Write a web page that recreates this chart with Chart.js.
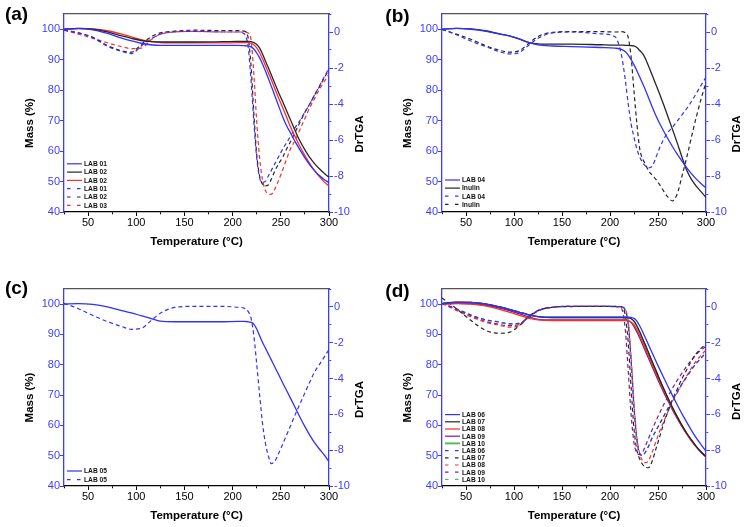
<!DOCTYPE html>
<html>
<head>
<meta charset="utf-8">
<script src="https://cdn.jsdelivr.net/npm/chart.js@4.4.1/dist/chart.umd.min.js"></script>
<style>
  body { margin: 0; background: #fff; width: 747px; height: 527px; position: relative; overflow: hidden; }
  canvas { position: absolute; }
</style>
</head>
<body>
<canvas id="pa" width="374" height="264" style="left:0;top:0"></canvas>
<canvas id="pb" width="373" height="264" style="left:374px;top:0"></canvas>
<canvas id="pc" width="374" height="263" style="left:0;top:264px"></canvas>
<canvas id="pd" width="373" height="263" style="left:374px;top:264px"></canvas>
<script>
// DATA — temperature grid shared by all panels (°C)
const temps = [25, 40, 55, 70, 85, 95, 105, 115, 125, 140, 160, 190, 205, 212, 216, 219, 222, 225, 228, 231, 234, 237, 240, 244, 248, 252, 256, 260, 265, 270, 275, 280, 285, 290, 295, 300];

// (a) mass %
const massA1 = [100, 100.2, 99.8, 98.6, 97.1, 96.2, 95.4, 94.9, 94.7, 94.7, 94.7, 94.7, 94.7, 94.6, 94.5, 94.2, 93.5, 92.2, 90.6, 88.6, 86.3, 83.9, 81.4, 78.0, 74.6, 71.2, 68.3, 66.0, 63.0, 60.3, 57.8, 55.5, 53.6, 52.0, 50.7, 49.6];
const massA2 = [100, 100.3, 100.0, 99.1, 97.8, 97.0, 96.3, 95.9, 95.8, 95.8, 95.8, 95.9, 96.0, 96.0, 96.0, 95.9, 95.6, 95.0, 93.8, 91.9, 89.6, 87.4, 85.1, 82.0, 79.0, 76.2, 73.2, 70.3, 66.6, 63.2, 60.4, 57.9, 55.9, 54.2, 52.7, 51.4];
const massA3 = [100, 100.3, 100.1, 99.5, 98.4, 97.5, 96.6, 96.0, 95.6, 95.5, 95.5, 95.5, 95.6, 95.6, 95.6, 95.4, 94.9, 93.9, 92.3, 90.3, 88.1, 85.8, 83.5, 80.3, 77.2, 74.2, 71.1, 68.0, 64.6, 61.4, 58.5, 55.9, 53.6, 51.6, 49.9, 48.5];
// (a) DrTGA
const dtgA1 = [0.1, -0.05, -0.32, -0.8, -1.08, -1.2, -0.78, -0.4, -0.12, 0.0, 0.04, 0.0, 0.0, -0.1, -0.8, -2.6, -5.0, -7.0, -8.1, -8.35, -8.3, -8.0, -7.7, -7.3, -6.9, -6.5, -6.15, -5.8, -5.3, -4.9, -4.45, -4.0, -3.5, -3.0, -2.5, -2.0];
const dtgA2 = [0.1, -0.05, -0.3, -0.75, -1.05, -1.12, -0.7, -0.28, -0.05, 0.05, 0.1, 0.08, 0.08, 0.05, -0.3, -1.8, -4.5, -6.8, -8.0, -8.45, -8.55, -8.5, -8.2, -7.7, -7.3, -6.95, -6.5, -6.1, -5.55, -5.0, -4.46, -4.0, -3.5, -3.05, -2.55, -2.1];
const dtgA3 = [0.1, -0.12, -0.35, -0.6, -0.82, -0.92, -0.9, -0.45, -0.12, 0.0, 0.03, 0.0, 0.0, 0.0, -0.05, -0.4, -2.3, -5.0, -7.0, -8.2, -8.8, -9.0, -9.02, -8.7, -8.2, -7.65, -7.05, -6.5, -6.0, -5.4, -4.8, -4.2, -3.7, -3.2, -2.75, -2.35];

// (b)
const massB04 = [100, 100.25, 100.0, 99.4, 98.4, 97.8, 96.9, 95.7, 94.9, 94.5, 94.3, 94.0, 93.8, 93.4, 92.6, 91.5, 90.0, 88.3, 86.4, 84.3, 82.2, 80.0, 77.6, 74.5, 71.5, 68.9, 66.5, 64.2, 61.5, 59.0, 56.7, 54.5, 52.5, 50.8, 49.3, 47.9];
const massBInulin = [100, 100.3, 100.1, 99.5, 98.5, 97.8, 96.8, 95.7, 95.2, 95.1, 95.1, 94.9, 94.8, 94.8, 94.7, 94.7, 94.6, 94.5, 94.0, 93.0, 92.0, 90.3, 88.0, 84.9, 81.7, 78.5, 75.1, 71.6, 67.2, 62.7, 58.0, 53.6, 50.6, 48.4, 46.6, 44.8];
const dtgB04 = [0.15, -0.15, -0.5, -0.8, -1.1, -1.22, -1.15, -0.75, -0.35, -0.05, 0.0, -0.1, -0.25, -1.3, -2.7, -4.0, -5.1, -5.85, -6.5, -6.95, -7.25, -7.45, -7.55, -7.45, -6.95, -6.4, -5.95, -5.6, -5.3, -4.95, -4.6, -4.25, -3.85, -3.4, -2.95, -2.5];
const dtgBInulin = [0.15, -0.12, -0.4, -0.75, -1.02, -1.12, -1.05, -0.65, -0.25, -0.02, 0.02, 0.02, 0.0, 0.02, -0.05, -0.3, -1.4, -3.3, -5.1, -6.5, -7.05, -7.35, -7.7, -7.95, -8.2, -8.5, -8.85, -9.15, -9.38, -9.0, -8.0, -6.95, -5.8, -4.7, -3.7, -2.8];

// (c)
const massC05 = [100, 100.2, 99.9, 99.1, 97.9, 97.1, 96.2, 95.3, 94.4, 94.2, 94.2, 94.2, 94.3, 94.3, 94.2, 94.0, 93.4, 91.8, 89.6, 87.4, 85.5, 83.6, 81.7, 79.1, 76.6, 74.0, 71.5, 69.0, 65.8, 62.6, 59.6, 56.8, 54.3, 52.2, 50.3, 48.0];
const dtgC05 = [0.2, -0.1, -0.48, -0.82, -1.1, -1.25, -1.2, -0.78, -0.35, -0.03, 0.03, 0.03, -0.02, -0.07, -0.25, -0.6, -1.6, -3.2, -4.9, -6.5, -7.6, -8.3, -8.75, -8.6, -8.15, -7.65, -7.15, -6.65, -6.0, -5.4, -4.8, -4.2, -3.64, -3.22, -2.8, -2.38];

// (d)
const massD06 = [100.2, 100.6, 100.6, 100.1, 99.1, 98.3, 97.4, 96.5, 95.9, 95.7, 95.7, 95.7, 95.7, 95.7, 95.7, 95.7, 95.6, 95.3, 94.4, 92.8, 90.9, 88.8, 86.7, 83.9, 81.1, 78.4, 75.7, 73.1, 69.9, 66.8, 63.8, 61.0, 58.3, 55.8, 53.6, 51.5];
const massD07 = [100.2, 100.7, 100.6, 100.1, 99.1, 98.3, 97.4, 96.5, 95.9, 95.6, 95.6, 95.6, 95.6, 95.6, 95.6, 95.5, 95.2, 94.4, 92.8, 90.8, 88.6, 86.4, 84.1, 81.0, 78.0, 75.0, 72.1, 69.3, 66.0, 62.9, 60.0, 57.4, 55.1, 53.0, 51.2, 49.8];
const massD08 = [100.0, 100.2, 100.0, 99.4, 98.3, 97.4, 96.4, 95.4, 94.8, 94.6, 94.6, 94.6, 94.6, 94.6, 94.6, 94.5, 94.1, 93.2, 91.6, 89.6, 87.5, 85.3, 83.1, 80.1, 77.2, 74.4, 71.6, 68.9, 65.7, 62.6, 59.8, 57.2, 54.9, 52.9, 51.1, 49.7];
const massD09 = [100.0, 100.3, 100.2, 99.7, 98.7, 97.9, 96.9, 95.8, 95.0, 94.8, 94.8, 94.8, 94.8, 94.8, 94.8, 94.6, 93.9, 92.6, 90.8, 88.8, 86.6, 84.4, 82.2, 79.3, 76.4, 73.6, 70.9, 68.3, 65.2, 62.3, 59.6, 57.1, 54.8, 52.8, 51.0, 49.5];
const massD10 = [100.2, 100.7, 100.6, 100.1, 99.1, 98.3, 97.4, 96.5, 95.9, 95.6, 95.6, 95.6, 95.6, 95.6, 95.6, 95.5, 95.2, 94.4, 92.8, 90.8, 88.6, 86.4, 84.1, 81.0, 78.0, 75.0, 72.1, 69.3, 66.0, 62.9, 60.0, 57.4, 55.1, 53.0, 51.2, 49.8];
const dtgD06 = [0.2, -0.1, -0.45, -0.72, -0.85, -0.95, -0.92, -0.6, -0.22, -0.02, 0.03, 0.03, 0.02, 0.0, -0.2, -1.0, -3.0, -5.6, -7.4, -8.2, -8.3, -8.1, -7.8, -7.3, -6.9, -6.5, -6.1, -5.7, -5.2, -4.75, -4.3, -3.9, -3.5, -3.15, -2.85, -2.55];
const dtgD07 = [0.5, -0.1, -0.75, -1.3, -1.47, -1.42, -1.07, -0.55, -0.2, -0.02, 0.02, 0.03, 0.03, 0.0, -0.5, -2.0, -4.5, -6.8, -8.0, -8.5, -8.8, -8.95, -8.98, -8.6, -7.9, -7.2, -6.5, -5.9, -5.2, -4.6, -4.0, -3.5, -3.0, -2.6, -2.3, -2.1];
const dtgD08 = [0.2, -0.2, -0.55, -0.85, -1.03, -1.13, -1.05, -0.6, -0.22, -0.02, 0.03, 0.03, 0.02, 0.0, -0.15, -0.8, -2.8, -5.4, -7.3, -8.2, -8.6, -8.7, -8.6, -8.1, -7.5, -6.9, -6.4, -5.9, -5.3, -4.8, -4.3, -3.85, -3.4, -3.0, -2.7, -2.4];
const dtgD09 = [0.2, -0.15, -0.5, -0.8, -0.98, -1.05, -0.98, -0.58, -0.2, -0.02, 0.03, 0.03, 0.03, -0.1, -1.3, -3.6, -6.0, -7.6, -8.15, -8.25, -8.1, -7.75, -7.35, -6.85, -6.35, -5.9, -5.45, -5.05, -4.55, -4.1, -3.7, -3.3, -2.95, -2.65, -2.4, -2.2];
const dtgD10 = [0.2, -0.1, -0.45, -0.72, -0.85, -0.95, -0.92, -0.6, -0.22, -0.02, 0.03, 0.03, 0.02, 0.0, -0.2, -1.0, -3.0, -5.6, -7.4, -8.2, -8.3, -8.1, -7.8, -7.3, -6.9, -6.5, -6.1, -5.7, -5.2, -4.75, -4.3, -3.9, -3.5, -3.15, -2.85, -2.55];

// STYLE
const BLUE = "#3030ff";
const AXIS_BLUE = "#3c3cff";
const BLACK = "#262626";
const RED = "#ff2a2a";
const PURPLE = "#7a1f8a";
const GREEN = "#5cb85c";
Chart.defaults.font.family = "'Liberation Sans', Arial, sans-serif";

const pts = (vals) => temps.map((t, i) => ({ x: t, y: vals[i] }));

function solid(label, vals, color) {
  return { label, data: pts(vals), yAxisID: "y", borderColor: color, borderWidth: 1.3,
    pointRadius: 0, cubicInterpolationMode: "monotone", fill: false };
}
function dashed(label, vals, color) {
  return { label, data: pts(vals), yAxisID: "y1", borderColor: color, borderWidth: 1.2,
    borderDash: [4, 3], pointRadius: 0, cubicInterpolationMode: "monotone", fill: false };
}

// titles, panel letter and in-plot legend
const decor = {
  id: "decor",
  afterDraw(chart, args, o) {
    const { ctx, chartArea: ca } = chart;
    const midY = (ca.top + ca.bottom) / 2;
    ctx.save();
    ctx.fillStyle = "#000";
    ctx.textAlign = "center";
    ctx.textBaseline = "middle";
    ctx.font = "bold 19px 'Liberation Sans', Arial, sans-serif";
    ctx.fillText(o.letter, o.lx, o.ly);

    ctx.font = "bold 11.5px 'Liberation Sans', Arial, sans-serif";
    ctx.fillText("Temperature (°C)", (ca.left + ca.right) / 2, ca.bottom + 30);
    ctx.save();
    ctx.translate(ca.left - 34.5, midY + 10);
    ctx.rotate(-Math.PI / 2);
    ctx.fillText("Mass (%)", 0, 0);
    ctx.restore();
    ctx.save();
    ctx.translate(ca.right + 31, midY + o.drOff);
    ctx.rotate(-Math.PI / 2);
    ctx.fillText("DrTGA", 0, 0);
    ctx.restore();

    // legend, bottom-left inside the plot
    const sets = chart.data.datasets;
    ctx.font = "bold 6.7px 'Liberation Sans', Arial, sans-serif";
    ctx.textAlign = "left";
    sets.forEach((ds, i) => {
      const y = ca.bottom - o.legBottom - (sets.length - 1 - i) * o.legStep;
      ctx.strokeStyle = ds.borderColor;
      ctx.lineWidth = ds.borderColor === GREEN && !ds.borderDash ? 2 : 1.2;
      ctx.setLineDash(ds.borderDash ? [3.5, 6.5] : []);
      ctx.beginPath();
      ctx.moveTo(ca.left + 3, y);
      ctx.lineTo(ca.left + 18, y);
      ctx.stroke();
      ctx.fillStyle = "#111";
      ctx.fillText(ds.label, ca.left + 20, y + 0.5);
    });
    ctx.restore();
  },
};

function makePanel(id, p, datasets) {
  new Chart(document.getElementById(id), {
    type: "line",
    data: { datasets },
    options: {
      responsive: false,
      animation: false,
      layout: { padding: { top: p.top, left: 0, right: 0, bottom: 0 } },
      plugins: {
        legend: { display: false },
        tooltip: { enabled: false },
        decor: p,
      },
      scales: {
        x: {
          type: "linear", position: "bottom", min: 25, max: 300,
          ticks: { stepSize: 25, autoSkip: false, maxRotation: 0, color: "#000", padding: 0,
            font: { size: 11 }, callback: (v) => (v % 50 === 0 ? String(v) : "") },
          grid: { display: true, drawOnChartArea: false, drawTicks: true, tickLength: 4,
            tickColor: "#000", tickWidth: 1,
            tickBorderDash: (c) => (c.tick && c.tick.value % 50 !== 0 ? [2, 10] : []) },
          border: { color: "#000", width: 1.3 },
          afterFit: (s) => { s.height = p.bottomH; },
        },
        xTop: {
          type: "linear", position: "top", min: 25, max: 300,
          ticks: { display: false }, grid: { display: false },
          border: { color: "#555", width: 1.3 },
          afterFit: (s) => { s.height = 0; },
        },
        y: {
          position: "left", min: 40, max: 105,
          ticks: { stepSize: 5, color: AXIS_BLUE, padding: 0, font: { size: 11 },
            callback: (v) => (v % 10 === 0 && v <= 100 ? String(v) : "") },
          grid: { display: true, drawOnChartArea: false, drawTicks: true, tickLength: 4,
            tickColor: AXIS_BLUE, tickWidth: 1,
            tickBorderDash: (c) => (c.tick && c.tick.value % 10 !== 0 ? [0, 2, 2, 10] : []) },
          border: { color: AXIS_BLUE, width: 1.3 },
          afterFit: (s) => { s.width = p.leftW; },
        },
        y1: {
          position: "right", min: -10, max: 1,
          ticks: { stepSize: 1, color: AXIS_BLUE, padding: 1, font: { size: 11 },
            callback: (v) => (v % 2 === 0 && v <= 0 ? String(v) : "") },
          grid: { display: true, drawOnChartArea: false, drawTicks: true, tickLength: 4,
            tickColor: AXIS_BLUE, tickWidth: 1,
            tickBorderDash: (c) => (c.tick && c.tick.value % 2 !== 0 ? [2, 10] : []) },
          border: { color: AXIS_BLUE, width: 1.3 },
          afterFit: (s) => { s.width = p.rightW; },
        },
      },
    },
    plugins: [decor],
  });
}

makePanel("pa",
  { letter: "(a)", lx: 16.5, ly: 15, top: 14, bottomH: 52, leftW: 64, rightW: 45, drOff: 21, legStep: 8.3, legBottom: 6.7 },
  [
    solid("LAB 01", massA1, BLUE), solid("LAB 02", massA2, BLACK), solid("LAB 02", massA3, RED),
    dashed("LAB 01", dtgA1, BLUE), dashed("LAB 02", dtgA2, BLACK), dashed("LAB 03", dtgA3, RED),
  ]);

makePanel("pb",
  { letter: "(b)", lx: 23.5, ly: 16.5, top: 14, bottomH: 52, leftW: 68, rightW: 41, drOff: 21, legStep: 8.1, legBottom: 7.7 },
  [
    solid("LAB 04", massB04, BLUE), solid("Inulin", massBInulin, BLACK),
    dashed("LAB 04", dtgB04, BLUE), dashed("Inulin", dtgBInulin, BLACK),
  ]);

makePanel("pc",
  { letter: "(c)", lx: 16.5, ly: 25, top: 25, bottomH: 41, leftW: 64, rightW: 45, drOff: 12, legStep: 8.7, legBottom: 6.3 },
  [solid("LAB 05", massC05, BLUE), dashed("LAB 05", dtgC05, BLUE)]);

makePanel("pd",
  { letter: "(d)", lx: 23.5, ly: 28, top: 25, bottomH: 41, leftW: 68, rightW: 41, drOff: 14, legStep: 7.2, legBottom: 6.6 },
  [
    solid("LAB 06", massD06, BLUE), solid("LAB 07", massD07, BLACK), solid("LAB 08", massD08, RED),
    solid("LAB 09", massD09, PURPLE), solid("LAB 10", massD10, GREEN),
    dashed("LAB 06", dtgD06, BLUE), dashed("LAB 07", dtgD07, BLACK), dashed("LAB 08", dtgD08, RED),
    dashed("LAB 09", dtgD09, PURPLE), dashed("LAB 10", dtgD10, GREEN),
  ]);
</script>
</body>
</html>
